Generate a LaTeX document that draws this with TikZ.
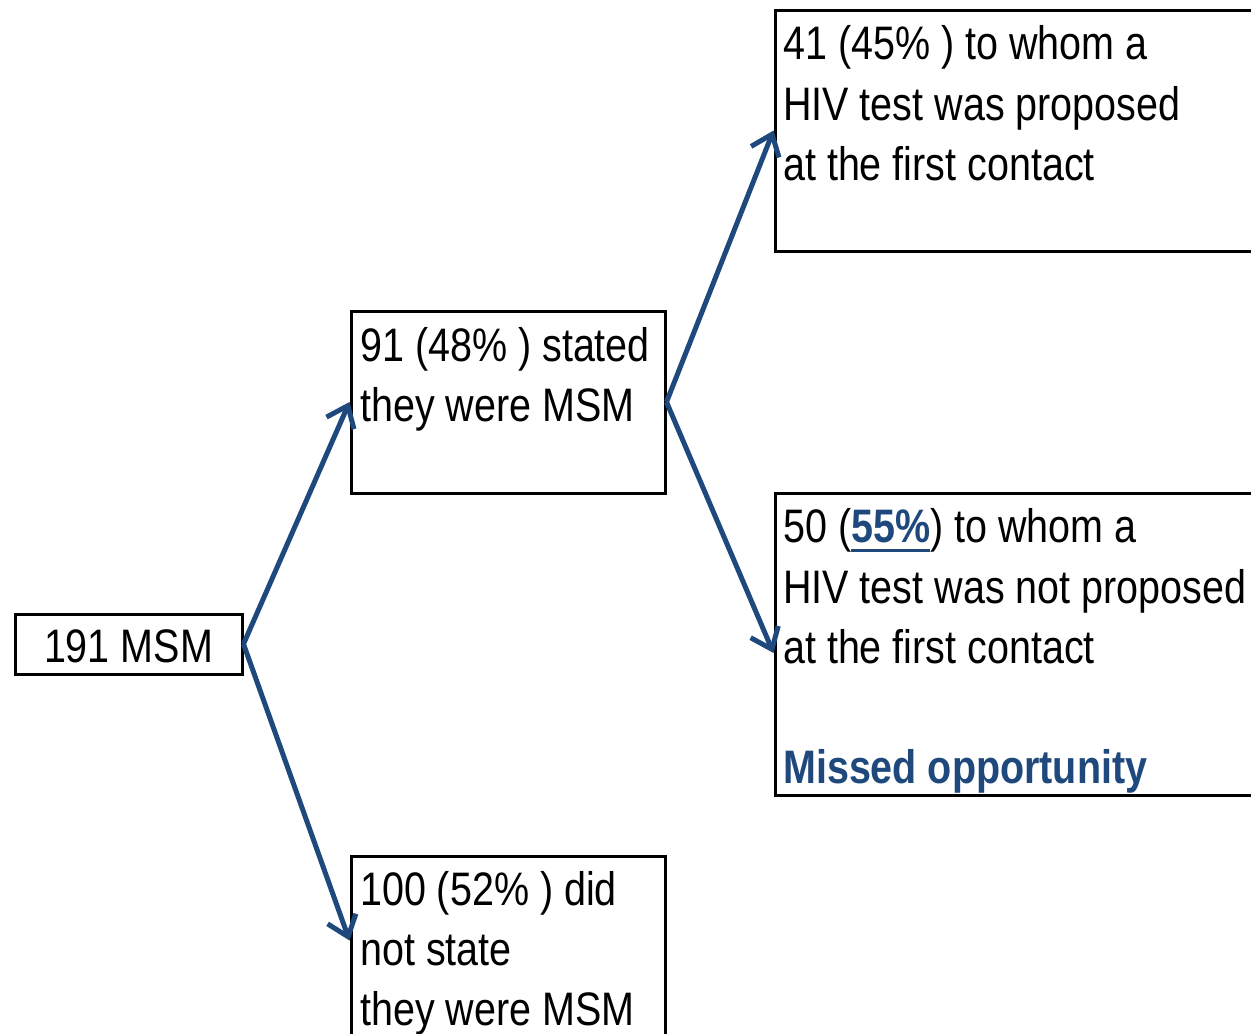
\documentclass[tikz,border=0pt]{standalone}
\usepackage{fontspec}
\setmainfont[FakeStretch=0.84]{Liberation Sans}
\usetikzlibrary{arrows.meta,calc}
\definecolor{navy}{RGB}{31,73,125}
\newcommand\myul[1]{\setbox0\hbox{#1}\rlap{\color{navy}\rule[-9.5pt]{\wd0}{3pt}}\box0}
\begin{document}
\begin{tikzpicture}[x=1pt,y=-1pt,
  box/.style={draw=black,line width=3pt,rectangle,inner sep=0pt,anchor=north west},
  txt/.style={inner sep=0pt,anchor=base west,font=\fontsize{47}{60}\selectfont},
  link/.style={draw=navy,line width=5pt,-{Straight Barb[length=19pt,width=30pt,line width=5pt]}}]
\useasboundingbox (0,0) rectangle (1251,1034);
\clip (0,0) rectangle (1251,1034);
% boxes
\node[box,minimum width=227pt,minimum height=60pt] (A) at (13.5,612.5) {};
\node[box,minimum width=314pt,minimum height=182pt] (B) at (349.5,309.5) {};
\node[box,minimum width=314pt,minimum height=200pt] (C) at (349.5,854.5) {};
\node[box,minimum width=490pt,minimum height=241pt] (D) at (773.5,8.5) {};
\node[box,minimum width=490pt,minimum height=302pt] (E) at (773.5,491.5) {};
% texts
\node[txt,anchor=base] (tA) at (128.5,662) {191 MSM};
\node[txt] (tB1) at (360,361) {91 (48\% ) stated};
\node[txt] (tB2) at (360,421) {they were MSM};
\node[txt] (tC1) at (360,905) {100 (52\% ) did};
\node[txt] (tC2) at (360,965) {not state};
\node[txt] (tC3) at (360,1025) {they were MSM};
\node[txt] (tD1) at (783,59) {41 (45\% ) to whom a};
\node[txt] (tD2) at (783,120) {HIV test was proposed};
\node[txt] (tD3) at (783,180) {at the first contact};
\node[txt] (tE1) at (783,542) {50 (\myul{\textcolor{navy}{\bfseries 55\%}}) to whom a};
\node[txt] (tE2) at (783,603) {HIV test was not proposed};
\node[txt] (tE3) at (783,663) {at the first contact};
\node[txt,text=navy,font=\fontsize{47}{60}\selectfont\bfseries] (tE4) at (783,783) {Missed opportunity};
% connectors
\coordinate (Cin) at ($(C.north west)+(0,86)$);
\coordinate (Ein) at ($(E.west)+(0,9)$);
\draw[link] (A.east) -- (B.west);
\draw[link] (A.east) -- (Cin);
\draw[link] (B.east) -- (D.west);
\draw[link] (B.east) -- (Ein);
\end{tikzpicture}
\end{document}
